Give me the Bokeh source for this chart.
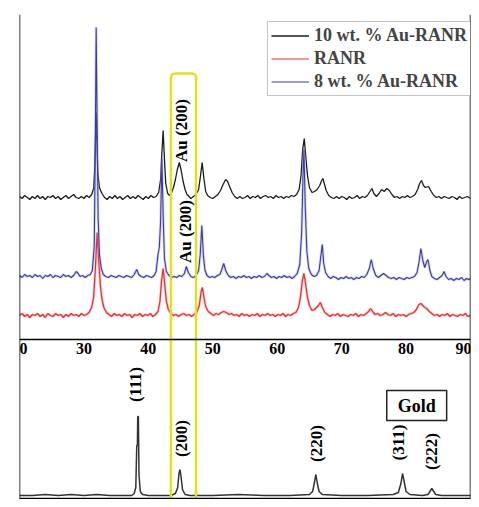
from math import pi
from bokeh.plotting import figure
from bokeh.models import Range1d, LinearAxis, FixedTicker, Span, Legend, LegendItem
from bokeh.core.properties import value
from bokeh.embed import file_html
from bokeh.resources import INLINE

# ---------------- data (2-theta, relative intensity) ----------------
ticks = [20, 30, 40, 50, 60, 70, 80, 90]

black_pts = [(20.0,1),(20.4,-1),(20.8,2),(21.2,0),(21.6,-2),(22.0,1),(22.4,-1),(22.8,2),(23.2,-1),(23.6,1),
 (24.0,-2),(24.4,1),(24.8,0),(25.2,2),(25.6,-1),(26.0,1),(26.4,-2),(26.8,0),(27.2,2),(27.6,-1),(28.0,1),
 (28.4,3),(28.8,0),(29.2,-1),(29.6,1),(30.0,-1),(30.4,2),(30.8,0),(31.2,3),(31.5,9),(31.65,25),(31.8,60),
 (31.9,85),(32.0,60),(32.15,25),(32.4,10),(32.8,4),(33.2,0),(33.6,-2),(34.0,1),(34.4,-1),(34.8,2),(35.2,-1),
 (35.6,1),(36.0,-2),(36.4,0),(36.8,2),(37.2,-1),(37.6,1),(38.0,-1),(38.4,2),(38.8,0),(39.2,-2),(39.6,1),
 (40.0,-1),(40.4,2),(40.8,0),(41.2,1),(41.6,5),(41.9,18),(42.1,45),(42.3,67),(42.5,38),(42.7,14),(43.0,4),
 (43.3,2),(43.6,5),(43.9,10),(44.2,18),(44.5,28),(44.8,35),(45.1,27),(45.4,16),(45.7,8),(46.0,3),(46.3,1),
 (46.6,-1),(47.0,1),(47.4,3),(47.8,8),(48.1,22),(48.35,35),(48.6,20),(48.9,6),(49.2,2),(49.6,0),(50.0,-1),
 (50.4,1),(50.8,3),(51.2,7),(51.6,13),(52.0,18),(52.3,16),(52.6,11),(53.0,5),(53.4,1),(53.8,-1),(54.2,1),
 (54.6,-1),(55.0,0),(55.4,2),(55.8,-1),(56.2,1),(56.6,0),(57.0,2),(57.4,-1),(57.8,1),(58.2,2),(58.6,0),
 (59.0,1),(59.4,-1),(59.8,2),(60.2,0),(60.6,1),(61.0,-1),(61.4,1),(61.8,0),(62.2,2),(62.6,1),(63.0,3),
 (63.4,8),(63.7,22),(63.95,48),(64.2,59),(64.45,40),(64.7,22),(65.0,10),(65.4,5),(65.8,6),(66.2,8),
 (66.6,12),(66.9,17),(67.1,19),(67.3,14),(67.6,7),(68.0,2),(68.4,0),(68.8,-1),(69.2,1),(69.6,-1),(70.0,1),
 (70.4,0),(70.8,-2),(71.2,1),(71.6,-1),(72.0,0),(72.4,2),(72.8,-1),(73.2,1),(73.6,0),(74.0,2),(74.4,6),
 (74.7,9),(75.0,4),(75.4,1),(75.8,4),(76.2,8),(76.6,6),(77.0,9),(77.4,7),(77.8,3),(78.2,0),(78.6,1),
 (79.0,-1),(79.4,1),(79.8,0),(80.2,2),(80.6,0),(81.0,1),(81.4,3),(81.8,8),(82.1,14),(82.4,17),(82.7,12),
 (83.0,10),(83.5,11),(83.9,6),(84.3,2),(84.7,0),(85.1,1),(85.5,-1),(85.9,1),(86.3,0),(86.7,-1),(87.1,1),
 (87.5,0),(87.9,-2),(88.3,1),(88.7,-1),(89.1,0),(89.5,1),(90.0,-1)]

blue_pts = [(20.0,1),(20.4,-1),(20.8,2),(21.2,0),(21.6,1),(22.0,-1),(22.4,2),(22.8,0),(23.2,1),(23.6,-2),
 (24.0,1),(24.4,0),(24.8,2),(25.2,-1),(25.6,1),(26.0,0),(26.4,-1),(26.8,2),(27.2,0),(27.6,1),(28.0,-1),
 (28.4,1),(28.8,5),(29.1,3),(29.4,0),(29.8,1),(30.2,-1),(30.6,1),(31.0,2),(31.3,6),(31.6,30),(31.75,120),
 (31.9,249),(32.05,150),(32.2,60),(32.4,22),(32.7,8),(33.0,2),(33.4,0),(33.8,-1),(34.2,1),(34.6,0),(35.0,-1),
 (35.4,1),(35.8,0),(36.2,-1),(36.6,1),(37.0,0),(37.4,-1),(37.8,2),(38.2,7),(38.5,2),(38.9,0),(39.3,-1),
 (39.7,1),(40.1,0),(40.5,-1),(40.9,1),(41.2,5),(41.5,22),(41.7,29),(41.9,55),(42.1,118),(42.3,60),(42.5,18),
 (42.8,5),(43.2,1),(43.6,-1),(44.0,0),(44.4,-1),(44.8,1),(45.2,0),(45.6,3),(45.9,10),(46.2,4),(46.6,0),
 (47.0,-1),(47.4,1),(47.8,6),(48.05,22),(48.3,51),(48.55,20),(48.8,6),(49.1,1),(49.5,-1),(49.9,0),(50.3,-1),
 (50.7,1),(51.1,2),(51.4,7),(51.7,13),(52.0,6),(52.4,1),(52.8,-1),(53.2,0),(53.6,-2),(54.0,0),(54.4,-1),
 (54.8,1),(55.2,-1),(55.6,0),(56.0,-2),(56.4,0),(56.8,-1),(57.2,1),(57.6,-1),(58.0,0),(58.4,3),(58.7,1),
 (59.1,-1),(59.5,0),(59.9,-2),(60.3,0),(60.7,-1),(61.1,1),(61.5,-1),(61.9,0),(62.3,-2),(62.7,0),(63.1,3),
 (63.5,12),(63.8,45),(64.0,100),(64.15,127),(64.35,70),(64.6,25),(64.9,8),(65.3,2),(65.7,0),(66.1,1),
 (66.5,6),(66.8,22),(67.0,32),(67.2,14),(67.5,4),(67.9,0),(68.3,-2),(68.7,0),(69.1,-1),(69.5,-3),(69.9,-1),
 (70.3,-2),(70.7,0),(71.1,-2),(71.5,-1),(71.9,-3),(72.3,-1),(72.7,-2),(73.1,0),(73.5,-1),(73.9,2),(74.3,8),
 (74.6,17),(74.9,8),(75.3,1),(75.7,-1),(76.1,1),(76.5,3),(76.9,1),(77.3,-1),(77.7,-2),(78.1,-1),(78.5,-3),
 (78.9,-1),(79.3,-2),(79.7,-3),(80.1,-1),(80.5,-2),(80.9,-1),(81.3,0),(81.7,4),(82.0,14),(82.3,28),
 (82.6,16),(82.9,9),(83.2,15),(83.4,17),(83.7,6),(84.0,0),(84.4,-2),(84.8,-3),(85.2,-1),(85.6,1),(85.9,5),
 (86.2,0),(86.6,-3),(87.0,-2),(87.4,-4),(87.8,-2),(88.2,-3),(88.6,-1),(89.0,-4),(89.4,-2),(89.7,-3),(90.0,-2)]

red_pts = [(20.0,0),(20.4,2),(20.8,-1),(21.2,1),(21.6,-2),(22.0,1),(22.4,0),(22.8,2),(23.2,-1),(23.6,1),
 (24.0,-2),(24.4,2),(24.8,0),(25.2,-1),(25.6,2),(26.0,0),(26.4,1),(26.8,-2),(27.2,1),(27.6,-1),(28.0,2),
 (28.4,0),(28.8,1),(29.2,-1),(29.6,2),(30.0,0),(30.4,1),(30.8,3),(31.2,8),(31.5,18),(31.8,50),(32.05,83),
 (32.3,55),(32.55,30),(32.8,16),(33.1,8),(33.5,3),(33.9,1),(34.3,-1),(34.7,2),(35.1,0),(35.5,1),(35.9,-1),
 (36.3,2),(36.7,0),(37.1,1),(37.5,-2),(37.9,1),(38.3,0),(38.7,2),(39.1,-1),(39.5,1),(39.9,0),(40.3,2),
 (40.7,-1),(41.1,1),(41.5,4),(41.8,14),(42.05,35),(42.3,47),(42.55,30),(42.8,14),(43.1,6),(43.5,2),(43.9,0),
 (44.3,1),(44.7,-1),(45.1,1),(45.5,2),(45.9,0),(46.3,1),(46.7,-1),(47.1,1),(47.5,3),(47.9,10),(48.2,24),
 (48.4,28),(48.65,17),(48.9,9),(49.3,4),(49.7,2),(50.1,0),(50.5,2),(50.9,1),(51.3,3),(51.7,4),(52.1,3),
 (52.5,1),(52.9,2),(53.3,0),(53.7,1),(54.1,-1),(54.5,2),(54.9,0),(55.3,1),(55.7,-1),(56.1,1),(56.5,0),
 (56.9,2),(57.3,-1),(57.7,1),(58.1,0),(58.5,2),(58.9,0),(59.3,1),(59.7,-1),(60.1,1),(60.5,0),(60.9,2),
 (61.3,-1),(61.7,1),(62.1,0),(62.5,2),(62.9,3),(63.3,8),(63.6,18),(63.9,35),(64.15,42),(64.4,32),(64.7,18),
 (65.0,10),(65.4,5),(65.8,6),(66.1,8),(66.4,10),(66.7,13),(67.0,8),(67.4,3),(67.8,1),(68.2,-1),(68.6,1),
 (69.0,0),(69.4,2),(69.8,-1),(70.2,1),(70.6,0),(71.0,-1),(71.4,1),(71.8,0),(72.2,2),(72.6,-1),(73.0,1),
 (73.4,0),(73.8,2),(74.2,4),(74.5,7),(74.8,4),(75.2,1),(75.6,2),(76.0,0),(76.4,1),(76.8,3),(77.2,1),
 (77.6,0),(78.0,2),(78.4,-1),(78.8,1),(79.2,0),(79.6,1),(80.0,-1),(80.4,1),(80.8,2),(81.2,3),(81.6,6),
 (82.0,11),(82.3,12),(82.6,10),(82.9,8),(83.2,7),(83.6,4),(84.0,2),(84.4,0),(84.8,1),(85.2,-1),(85.6,1),
 (86.0,0),(86.4,2),(86.8,-1),(87.2,1),(87.6,0),(88.0,-1),(88.4,1),(88.8,0),(89.2,2),(89.6,-1),(90.0,0)]

gold_pts = [(20.0,0),(22.0,0),(24.0,1),(26.0,0),(28.0,1),(30.0,0),(32.0,1),(34.0,0),(36.0,0),(37.4,0),
 (37.8,2),(38.05,8),(38.2,50),(38.3,50),(38.35,79),(38.45,79),(38.55,20),(38.75,4),(39.1,1),(40.0,0),
 (42.0,0),(43.5,0),(44.2,2),(44.55,8),(44.75,22),(44.9,26),(45.05,20),(45.3,6),(45.7,1),(46.5,0),(50.0,0),
 (54.0,1),(58.0,0),(62.0,0),(65.0,1),(65.5,4),(65.8,14),(66.0,21),(66.2,13),(66.5,4),(67.0,1),(70.0,0),
 (74.0,0),(78.0,1),(78.8,3),(79.2,12),(79.45,22),(79.7,14),(80.0,4),(80.6,1),(82.5,0),(83.4,1),(83.8,5),
 (84.0,7),(84.2,5),(84.6,1),(85.5,0),(88.0,0),(90.0,0)]

gold_peaks = [38.0, 45.2, 66.1, 78.9, 84.0]
gold_labels = ["(111)", "(200)", "(220)", "(311)", "(222)"]
series_names = ["10 wt. % Au-RANR", "RANR", "8 wt. % Au-RANR"]

# ---------------- layout constants (vertical offsets of stacked traces) ----------------
OFF_BLACK, OFF_BLUE, OFF_RED, OFF_GOLD = 310, 231, 192, 12
MID_AXIS_Y = 168
FONT = value("Liberation Serif")

def shifted(pts, off):
    return [p[0] for p in pts], [p[1] + off for p in pts]

p = figure(width=471, height=499, output_backend="svg", toolbar_location=None,
           x_range=Range1d(20, 90), y_range=Range1d(8, 493),
           x_axis_location=None, y_axis_location=None,
           min_border_left=19, min_border_right=1, min_border_top=14, min_border_bottom=0)
p.outline_line_color = None
p.grid.visible = False
p.background_fill_color = "white"

bx, by = shifted(black_pts, OFF_BLACK)
rx, ry = shifted(red_pts, OFF_RED)
ux, uy = shifted(blue_pts, OFF_BLUE)
gx, gy = shifted(gold_pts, OFF_GOLD)

r_black = p.line(bx, by, line_color="#1c1c1c", line_width=1.3)
p.line(rx, ry, line_color="#f27070", line_width=2.6, line_alpha=0.4)
r_red = p.line(rx, ry, line_color="#ee2b2b", line_width=1.2)
p.line(ux, uy, line_color="#9a9ade", line_width=2.8, line_alpha=0.4)
r_blue = p.line(ux, uy, line_color="#3a3aa6", line_width=1.1)
p.line(gx, gy, line_color="#333333", line_width=1.5)

# borders
for xloc in (ticks[0], ticks[-1]):
    p.add_layout(Span(location=xloc, dimension="height", line_color="black", line_width=1.5))
p.add_layout(Span(location=9, dimension="width", line_color="black", line_width=1.5))

# middle x axis with tick labels
ax = LinearAxis(fixed_location=MID_AXIS_Y, ticker=FixedTicker(ticks=ticks))
ax.axis_line_color = "black"
ax.axis_line_width = 1.5
ax.major_tick_in = 0
ax.major_tick_out = 0
ax.minor_tick_line_color = None
ax.major_label_standoff = 3
ax.major_label_text_font = "Liberation Serif"
ax.major_label_text_font_style = "bold"
ax.major_label_text_font_size = "16px"
ax.major_label_text_color = "black"
p.add_layout(ax, "below")

# yellow highlight box
p.quad(left=[43.5], right=[47.4], top=[434], bottom=[0], fill_color=None,
       line_color="#e0e020", line_width=2.5, border_radius=4)

# annotations
p.text(x=[45.2, 45.8], y=[377, 276], text=["Au (200)", "Au (200)"], angle=pi / 2,
       text_font=FONT, text_font_style="bold", text_font_size="17px",
       text_align="center", text_baseline="middle", text_color="black")

label_y = [123, 69, 64, 65, 56]
p.text(x=gold_peaks, y=label_y, text=gold_labels, angle=pi / 2,
       text_font=FONT, text_font_style="bold", text_font_size="17px",
       text_align="center", text_baseline="middle", text_color="black")

p.quad(left=[77.0], right=[86.3], top=[117], bottom=[87], fill_color=None,
       line_color="#222222", line_width=1.5)
p.text(x=[81.65], y=[102], text=["Gold"], text_font=FONT, text_font_style="bold",
       text_font_size="18px", text_align="center", text_baseline="middle", text_color="black")

legend = Legend(items=[LegendItem(label=series_names[0], renderers=[r_black]),
                       LegendItem(label=series_names[1], renderers=[r_red]),
                       LegendItem(label=series_names[2], renderers=[r_blue])],
                location=(248, 403), label_text_font="Liberation Serif",
                label_text_font_style="bold", label_text_font_size="18px",
                glyph_width=38, glyph_height=19, label_height=19, label_standoff=5,
                spacing=2, padding=3, margin=0,
                border_line_color="#888888", border_line_width=1.2,
                background_fill_color="white", background_fill_alpha=1.0)
p.add_layout(legend)

open("out.html", "w").write(file_html(p, INLINE))
